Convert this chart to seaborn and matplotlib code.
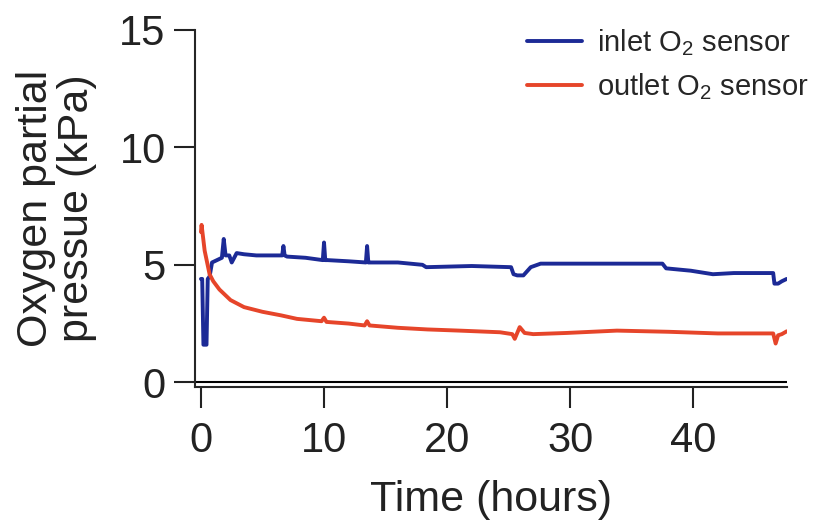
import matplotlib
matplotlib.use('Agg')
from matplotlib import pyplot as plt
import pandas as pd
import seaborn as sns

# inlet sensor trace (hours, kPa)
t_inlet = [0, 0.1, 0.2, 0.45, 0.55, 0.7, 0.9, 1.3, 1.7, 1.85, 2.0, 2.3, 2.5, 2.9,
           3.5, 4.5, 5.5, 6.6, 6.7, 6.8, 7.0, 8.5, 9.9, 10.0, 10.1, 10.3, 12, 13.4,
           13.5, 13.6, 13.8, 16, 18, 18.3, 22, 25.2, 25.4, 25.7, 26.2, 26.8, 27.6,
           30, 34, 37.5, 37.8, 39.8, 41.6, 43.3, 46.5, 46.6, 46.9, 47.2, 47.6]
inlet = [4.4, 4.4, 1.6, 1.6, 4.4, 4.5, 5.1, 5.2, 5.3, 6.1, 5.4, 5.4, 5.1, 5.5,
         5.45, 5.4, 5.4, 5.4, 5.8, 5.4, 5.35, 5.3, 5.2, 5.95, 5.2, 5.2, 5.15, 5.1,
         5.8, 5.1, 5.1, 5.1, 5.0, 4.9, 4.95, 4.9, 4.6, 4.55, 4.55, 4.9, 5.05,
         5.05, 5.05, 5.05, 4.85, 4.75, 4.6, 4.65, 4.65, 4.2, 4.2, 4.3, 4.4]

# outlet sensor trace
t_outlet = [0, 0.05, 0.3, 0.7, 1.0, 1.5, 2.4, 3.5, 5, 6.5, 7.8, 9.8, 10.0, 10.2,
            12, 13.3, 13.5, 13.7, 16, 18.4, 21, 24.3, 25.3, 25.5, 25.9, 26.3, 27,
            29.7, 33.8, 38, 42, 46.5, 46.7, 46.9, 47.2, 47.6]
outlet = [6.4, 6.7, 5.6, 4.6, 4.3, 3.95, 3.5, 3.2, 3.0, 2.85, 2.7, 2.6, 2.75, 2.57,
          2.5, 2.42, 2.6, 2.42, 2.32, 2.25, 2.2, 2.13, 2.05, 1.85, 2.35, 2.1, 2.05,
          2.1, 2.2, 2.15, 2.08, 2.08, 1.65, 2.0, 2.05, 2.17]

df_in = pd.DataFrame({'time': t_inlet, 'pO2': inlet})
df_out = pd.DataFrame({'time': t_outlet, 'pO2': outlet})

sns.set_style('ticks')
plt.rcParams['font.family'] = ['Liberation Sans', 'DejaVu Sans']
plt.rcParams['mathtext.fontset'] = 'custom'
plt.rcParams['mathtext.rm'] = 'Liberation Sans'

fig = plt.figure(figsize=(8.29, 5.24), dpi=100)
ax = fig.add_axes([0.235, 0.261, 0.714, 0.682])

ax.axhline(0, color='black', lw=1.5, zorder=1)
sns.lineplot(data=df_in, x='time', y='pO2', ax=ax, color='#1c2a96', lw=2.8,
             estimator=None, sort=False, label='inlet O$_2$ sensor')
sns.lineplot(data=df_out, x='time', y='pO2', ax=ax, color='#e6452a', lw=2.8,
             estimator=None, sort=False, label='outlet O$_2$ sensor')

ax.set_xlim(-0.5, 47.6)
ax.set_ylim(-0.21, 15)
ax.set_xticks([0, 10, 20, 30, 40])
ax.set_yticks([0, 5, 10, 15])
sns.despine(ax=ax)
for s in ['left', 'bottom']:
    ax.spines[s].set_linewidth(1.5)
ax.tick_params(direction='out', length=15, width=1.5, labelsize=30, colors='#222222')
ax.tick_params(axis='x', pad=9)
ax.tick_params(axis='y', pad=6)

ax.set_xlabel('Time (hours)', fontsize=31, labelpad=14, color='#222222')
ax.set_ylabel('Oxygen partial\npressue (kPa)', fontsize=31, labelpad=16,
              linespacing=1.05, color='#222222')

ax.legend(loc='upper left', bbox_to_anchor=(527 / 829, 1 - 27 / 524),
          bbox_transform=fig.transFigure, frameon=False, borderpad=0,
          borderaxespad=0, fontsize=21, handlelength=1.9, handletextpad=0.5,
          labelspacing=0.45)

fig.savefig('out.png', dpi=100)
